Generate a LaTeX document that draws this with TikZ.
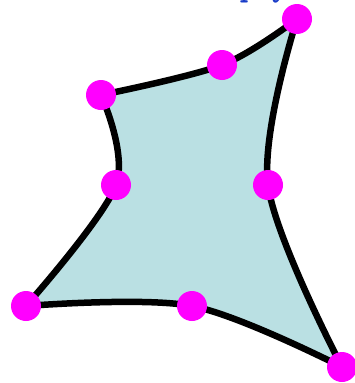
\documentclass[tikz,border=0pt]{standalone}
\usepackage{tikz}
\usepackage{xcolor}
\usetikzlibrary{calc}

\definecolor{patchfill}{RGB}{186,224,227}
\definecolor{knotpink}{RGB}{255,0,255}
\definecolor{titleblue}{RGB}{25,60,200}

\begin{document}
\begin{tikzpicture}[
    x=1pt, y=-1pt,
    knot/.style={circle, fill=knotpink, inner sep=0pt, minimum size=30pt},
    outline/.style={line width=6.5pt, line join=round, fill=patchfill},
]
\useasboundingbox (0,0) rectangle (354,383);

% -------------------------------------------------
% Corner and mid-side points
% -------------------------------------------------
\coordinate (pA) at (297,19);
\coordinate (pB) at (222,65);
\coordinate (pC) at (101,95);
\coordinate (pD) at (116,185);
\coordinate (pE) at (26,306);
\coordinate (pF) at (192,306);
\coordinate (pG) at (342,367);
\coordinate (pH) at (268,185);

% clipped caption above the patch
\node[text=titleblue, font=\ttfamily\bfseries\fontsize{30}{30}\selectfont,
      anchor=base west, inner sep=0pt] (caption) at (240,-3.5) {p y};

% -------------------------------------------------
% Patch outline (one curve per side)
% -------------------------------------------------
\draw[outline]
  plot[smooth, tension=0.55] coordinates {(pA) (pB) (pC)}
  -- plot[smooth, tension=0.55] coordinates {(pC) (pD) (pE)}
  -- plot[smooth, tension=0.55] coordinates {(pE) (pF) (pG)}
  -- plot[smooth, tension=0.55] coordinates {(pG) (pH) (pA)}
  -- cycle;

% -------------------------------------------------
% Knots
% -------------------------------------------------
\foreach \p in {pA,pB,pC,pD,pE,pF,pG,pH}
  \node[knot] (k\p) at (\p) {};

\end{tikzpicture}
\end{document}
